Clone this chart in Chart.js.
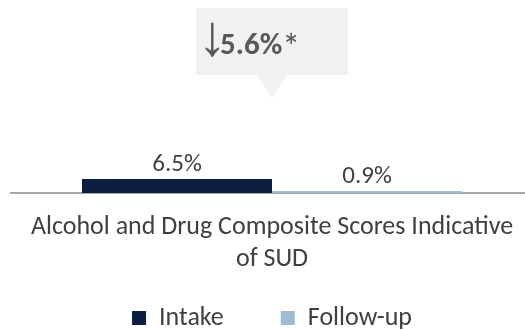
<!DOCTYPE html>
<html>
<head>
<meta charset="utf-8">
<script src="https://cdn.jsdelivr.net/npm/chart.js@4"></script>
<style>
  html, body { margin: 0; padding: 0; background: #fff; overflow: hidden; }
  #wrap { width: 533px; height: 341px; }
</style>
</head>
<body>
<div id="wrap"><canvas id="bar"></canvas></div>
<script>
const categories = ['Alcohol and Drug Composite Scores Indicative', 'of SUD'];
const seriesNames = ['Intake', 'Follow-up'];
const intakeValues = [6.5];
const followUpValues = [0.9];
const changeLabel = '5.6%';
const FONT = 'Carlito, Lato, "Open Sans", sans-serif';

// value labels above each bar
const barLabels = {
    id: 'barLabels',
    afterDatasetsDraw(chart) {
        const ctx = chart.ctx;
        ctx.save();
        ctx.font = '25px ' + FONT;
        ctx.fillStyle = '#404040';
        ctx.textAlign = 'center';
        ctx.textBaseline = 'alphabetic';
        chart.data.datasets.forEach((ds, i) => {
            chart.getDatasetMeta(i).data.forEach((bar, j) => {
                ctx.fillText(ds.data[j].toFixed(1) + '%', bar.x, bar.y - 8);
            });
        });
        ctx.restore();
    }
};

// grey callout with the change between intake and follow-up
const callout = {
    id: 'callout',
    afterDraw(chart) {
        const ctx = chart.ctx;
        const cx = chart.scales.x.getPixelForValue(0);
        ctx.save();
        ctx.fillStyle = '#F0F1F1';
        ctx.fillRect(cx - 76, 8, 152, 67);
        ctx.beginPath();
        ctx.moveTo(cx - 15, 75);
        ctx.lineTo(cx + 15, 75);
        ctx.lineTo(cx, 98);
        ctx.closePath();
        ctx.fill();

        ctx.fillStyle = '#595959';
        ctx.textBaseline = 'alphabetic';
        ctx.textAlign = 'left';

        // size the arrow glyph so it spans about 36px
        ctx.font = '40px "Liberation Sans", sans-serif';
        let m = ctx.measureText('\u2193');
        const size = 40 * 36 / (m.actualBoundingBoxAscent + m.actualBoundingBoxDescent);
        ctx.font = size.toFixed(1) + 'px "Liberation Sans", sans-serif';
        m = ctx.measureText('\u2193');
        ctx.fillText('\u2193', cx - 67 + m.actualBoundingBoxLeft, 22 + m.actualBoundingBoxAscent);

        ctx.font = 'bold 31px ' + FONT;
        ctx.fillText(changeLabel, cx - 52, 54);
        const w = ctx.measureText(changeLabel).width;
        ctx.font = '36px ' + FONT;
        ctx.fillText('*', cx - 52 + w, 59);
        ctx.restore();
    }
};

new Chart(document.getElementById('bar'), {
    type: 'bar',
    data: {
        labels: [categories],
        datasets: [{
            label: seriesNames[0],
            data: intakeValues,
            backgroundColor: '#0C1F43'
        }, {
            label: seriesNames[1],
            data: followUpValues,
            backgroundColor: '#9FBCD4'
        }]
    },
    options: {
        responsive: true,
        maintainAspectRatio: false,
        animation: false,
        layout: { padding: { left: 11, top: 100 } },
        datasets: { bar: { categoryPercentage: 0.728, barPercentage: 1 } },
        plugins: {
            legend: {
                position: 'bottom',
                labels: {
                    boxWidth: 14,
                    boxHeight: 14,
                    padding: 57,
                    color: '#404040',
                    font: { family: FONT, size: 26 }
                }
            },
            tooltip: { enabled: false }
        },
        scales: {
            x: {
                grid: { display: false, drawTicks: false },
                border: { display: true, color: '#A6A6A6', width: 2 },
                ticks: { display: false },
                title: {
                    display: true,
                    text: categories,
                    color: '#404040',
                    font: { family: FONT, size: 26, lineHeight: 1.25 },
                    padding: { top: 18, bottom: -28 }
                }
            },
            y: {
                display: false,
                min: 0,
                max: 43
            }
        }
    },
    plugins: [barLabels, callout]
});
</script>
</body>
</html>
